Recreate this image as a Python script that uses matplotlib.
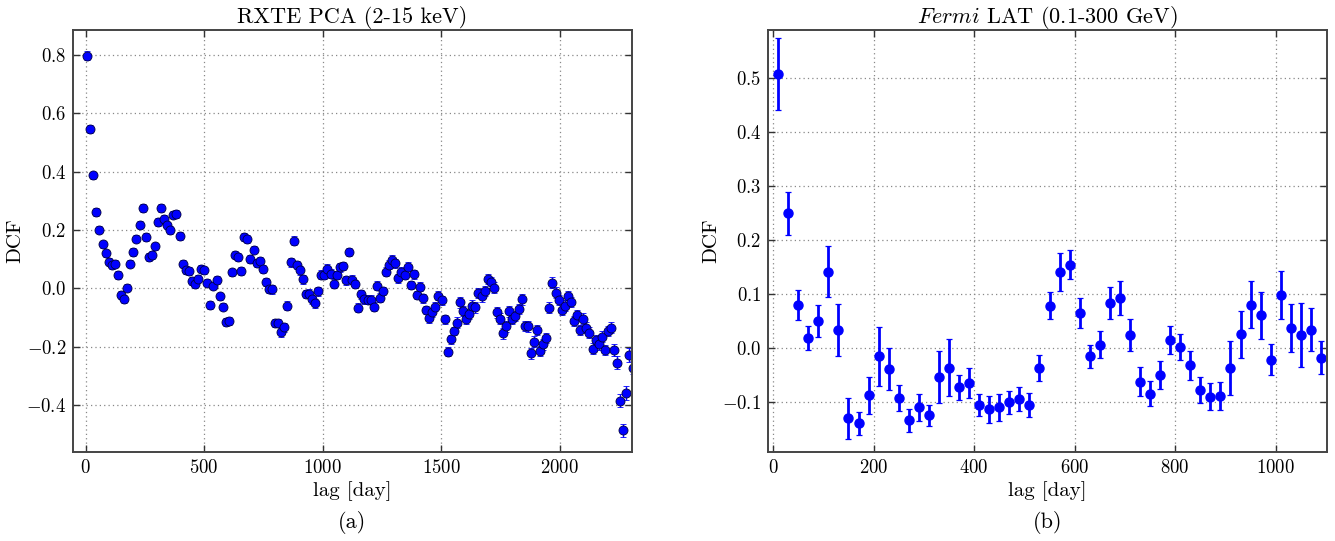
import numpy as np
import matplotlib
matplotlib.use('Agg')
import matplotlib.pyplot as plt

plt.rcParams['font.family'] = 'cmr10'
plt.rcParams['mathtext.fontset'] = 'cm'
plt.rcParams['axes.formatter.use_mathtext'] = True

# ---- panel (a): RXTE PCA, bin width 13 d ----
bin_a = 13.0
dcf_a = [0.797, 0.547, 0.387, 0.261, 0.201, 0.151, 0.120, 0.092, 0.080, 0.085,
         0.046, -0.023, -0.036, 0.003, 0.085, 0.125, 0.171, 0.219, 0.275, 0.177,
         0.107, 0.115, 0.144, 0.228, 0.275, 0.239, 0.216, 0.201, 0.253, 0.255,
         0.180, 0.085, 0.064, 0.059, 0.025, 0.015, 0.034, 0.068, 0.062, 0.020,
         -0.056, 0.010, 0.029, -0.027, -0.062, -0.115, -0.111, 0.055, 0.116, 0.107,
         0.060, 0.176, 0.170, 0.101, 0.133, 0.087, 0.095, 0.066, 0.023, -0.002,
         -0.003, -0.118, -0.118, -0.150, -0.133, -0.059, 0.090, 0.163, 0.080, 0.062,
         0.032, -0.019, -0.018, -0.037, -0.051, -0.010, 0.047, 0.046, 0.068, 0.050,
         0.017, 0.046, 0.072, 0.077, 0.028, 0.125, 0.030, 0.015, -0.066, -0.020,
         -0.037, -0.039, -0.039, -0.062, 0.010, -0.031, -0.009, 0.058, 0.081, 0.098,
         0.086, 0.035, 0.058, 0.046, 0.075, 0.012, 0.049, -0.022, 0.006, -0.034,
         -0.074, -0.102, -0.082, -0.062, -0.025, -0.040, -0.106, -0.217, -0.174, -0.146,
         -0.117, -0.048, -0.077, -0.105, -0.088, -0.059, -0.065, -0.016, -0.027, -0.009,
         0.032, 0.021, 0.003, -0.082, -0.103, -0.154, -0.130, -0.078, -0.105, -0.094,
         -0.071, -0.037, -0.128, -0.130, -0.222, -0.182, -0.142, -0.214, -0.191, -0.170,
         -0.066, 0.020, -0.014, -0.040, -0.073, -0.059, -0.027, -0.046, -0.111, -0.091,
         -0.143, -0.103, -0.134, -0.151, -0.206, -0.177, -0.191, -0.165, -0.211, -0.145,
         -0.134, -0.210, -0.254, -0.385, -0.485, -0.357, -0.229, -0.271]
err_a = ([0.016, 0.013, 0.012, 0.013, 0.012, 0.012, 0.012, 0.012, 0.012, 0.012] +
         [0.013] * 50 +
         [0.015] * 60 +
         [0.018] * 50 +
         [0.020, 0.020, 0.022, 0.022, 0.022, 0.024, 0.024, 0.022])
lag_a = bin_a * (np.arange(len(dcf_a)) + 0.5)

# ---- panel (b): Fermi LAT, bin width 20 d ----
bin_b = 20.0
dcf_b = [0.507, 0.249, 0.080, 0.018, 0.050, 0.141, 0.033, -0.130, -0.140, -0.088,
         -0.016, -0.040, -0.093, -0.134, -0.110, -0.125, -0.054, -0.037, -0.073, -0.065,
         -0.106, -0.114, -0.110, -0.101, -0.095, -0.106, -0.037, 0.078, 0.140, 0.154,
         0.065, -0.016, 0.006, 0.083, 0.092, 0.024, -0.063, -0.085, -0.050, 0.014,
         0.001, -0.032, -0.078, -0.091, -0.090, -0.038, 0.025, 0.080, 0.060, -0.022,
         0.098, 0.037, 0.024, 0.034, -0.018]
err_b = [0.067, 0.039, 0.028, 0.022, 0.030, 0.047, 0.048, 0.038, 0.021, 0.034,
         0.054, 0.039, 0.024, 0.021, 0.025, 0.020, 0.049, 0.053, 0.023, 0.027,
         0.021, 0.025, 0.025, 0.021, 0.022, 0.023, 0.024, 0.025, 0.035, 0.027,
         0.028, 0.022, 0.025, 0.029, 0.032, 0.030, 0.027, 0.023, 0.026, 0.026,
         0.024, 0.027, 0.024, 0.025, 0.026, 0.050, 0.043, 0.043, 0.043, 0.029,
         0.045, 0.045, 0.060, 0.039, 0.031]
lag_b = bin_b * (np.arange(len(dcf_b)) + 0.5)

fig = plt.figure(figsize=(13.35, 5.41), dpi=100)
ax1 = fig.add_axes([0.0547, 0.1645, 0.4187, 0.78])
ax2 = fig.add_axes([0.5753, 0.1645, 0.4187, 0.78])

ax1.errorbar(lag_a, dcf_a, yerr=err_a, fmt='o', color='blue', ecolor='blue',
             ms=6.5, mec='#000040', mew=0.6, elinewidth=1.0, capsize=2, capthick=0.8)
ax2.errorbar(lag_b, dcf_b, yerr=err_b, fmt='o', color='blue', ecolor='blue',
             ms=6.5, mec='blue', elinewidth=2.0, capsize=2.2, capthick=0.9)

ax1.set_xlim(-53, 2305)
ax1.set_ylim(-0.56, 0.885)
ax1.set_xticks([0, 500, 1000, 1500, 2000])
ax1.set_yticks([-0.4, -0.2, 0.0, 0.2, 0.4, 0.6, 0.8])
ax1.set_title('RXTE PCA (2-15 keV)', fontsize=16, pad=5)

ax2.set_xlim(-10, 1102)
ax2.set_ylim(-0.193, 0.589)
ax2.set_xticks([0, 200, 400, 600, 800, 1000])
ax2.set_yticks([-0.1, 0.0, 0.1, 0.2, 0.3, 0.4, 0.5])
ax2.set_title(r'$\mathit{Fermi}$ LAT (0.1-300 GeV)', fontsize=16, pad=5)

for ax in (ax1, ax2):
    ax.set_xlabel('lag [day]', fontsize=15, labelpad=3)
    ax.set_ylabel('DCF', fontsize=15, labelpad=1)
    ax.grid(True, linestyle=(0, (1, 2.5)), color='#888888', lw=0.9)
    ax.tick_params(direction='in', top=True, right=True, length=5, width=1,
                   labelsize=13.5, color='#333333', pad=5)
    for s in ax.spines.values():
        s.set_color('#444444')
        s.set_linewidth(1.4)

fig.text(0.2637, 0.035, '(a)', ha='center', va='center', fontsize=16)
fig.text(0.785, 0.035, '(b)', ha='center', va='center', fontsize=16)

fig.savefig('out.png', dpi=100)
